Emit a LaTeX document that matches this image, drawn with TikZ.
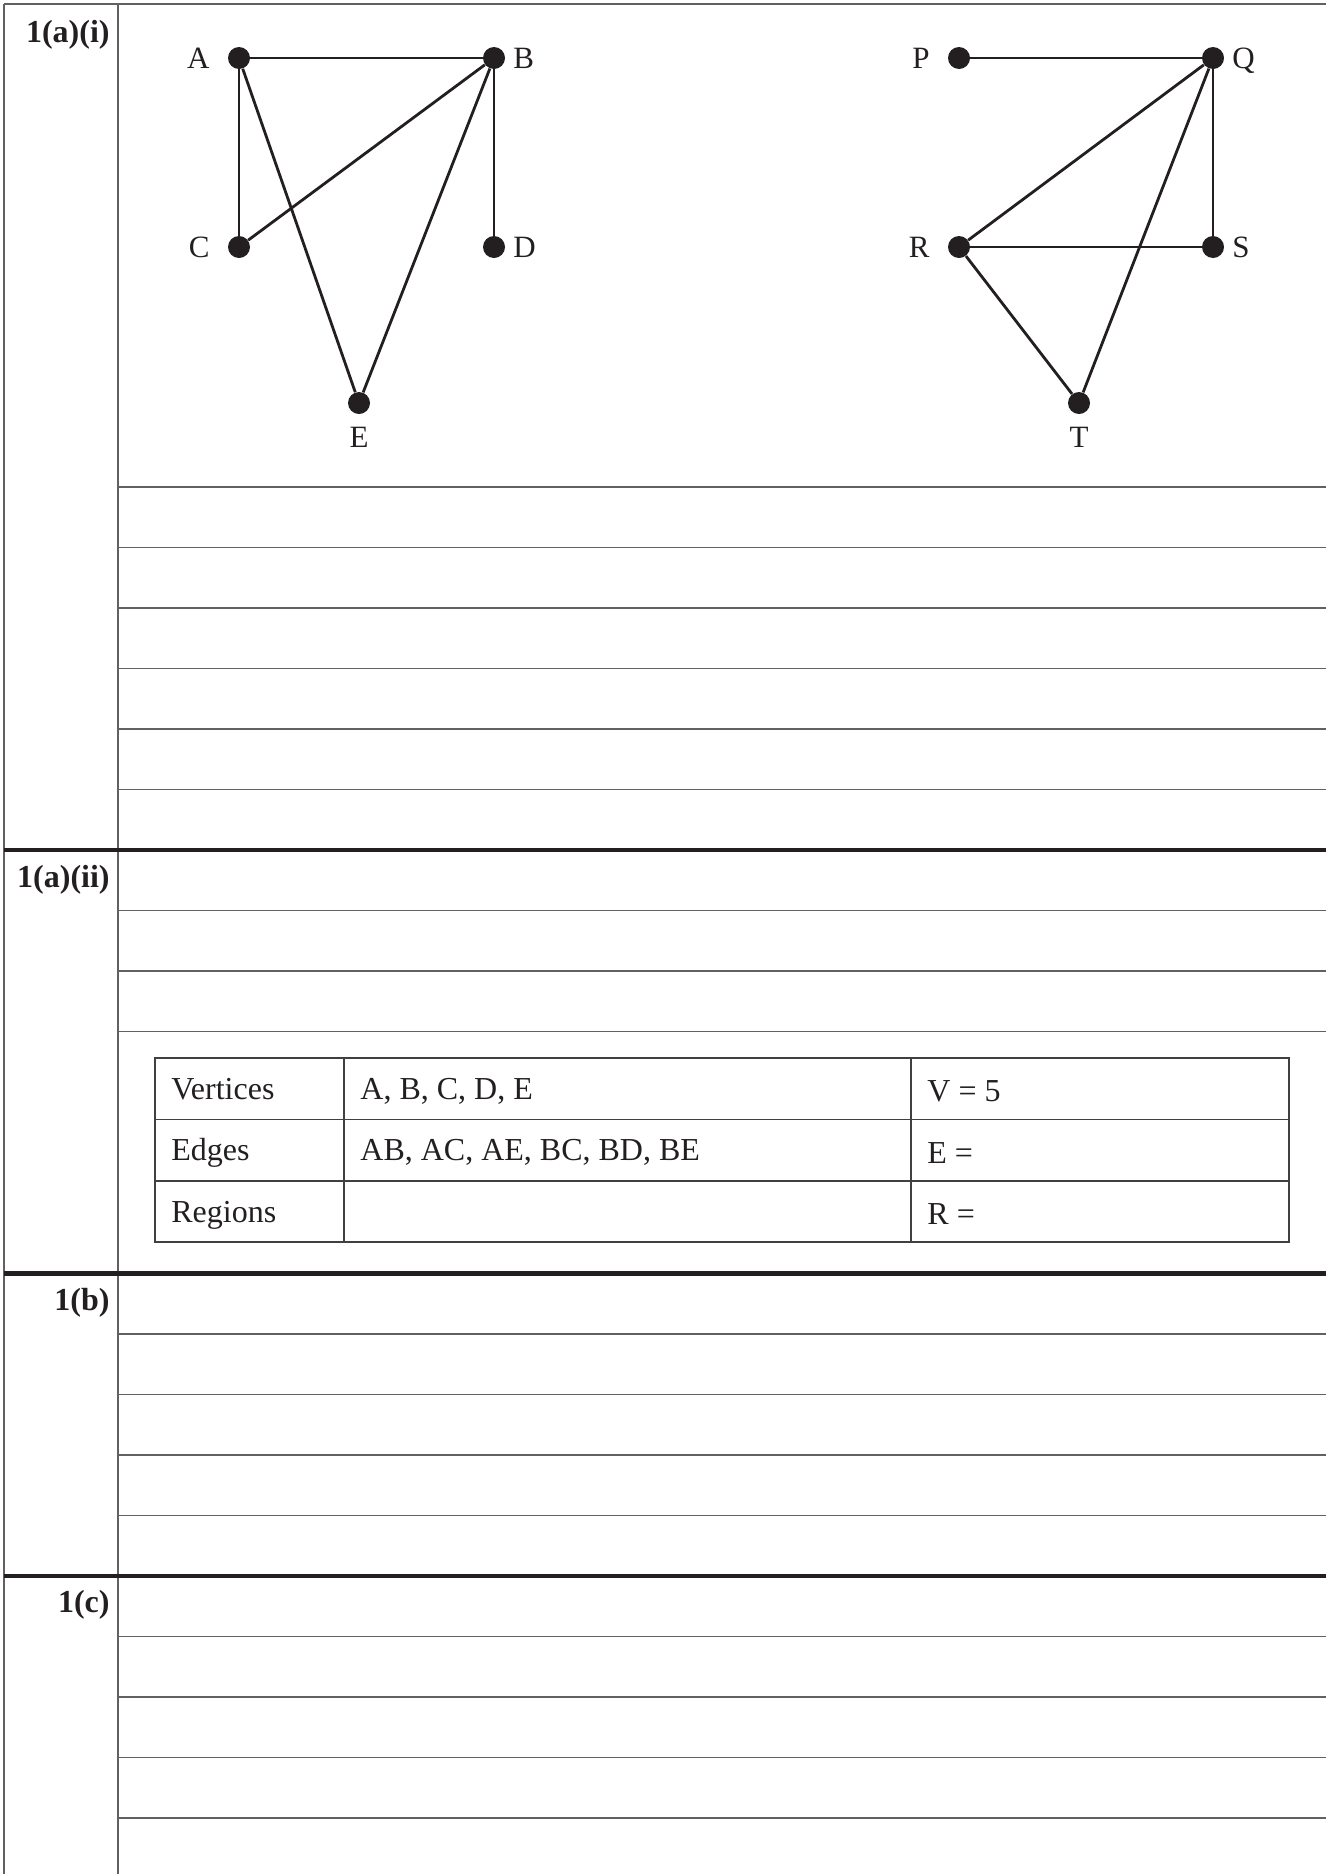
\documentclass[tikz,border=0pt]{standalone}
\usepackage{fontspec}
\setmainfont{Liberation Serif}
\definecolor{ink}{HTML}{231F20}
\begin{document}
\begin{tikzpicture}[x=0.5pt,y=-0.5pt,
  thinrule/.style={line width=0.75pt, draw=black!62},
  thickrule/.style={line width=2.2pt, draw=ink},
  tablerule/.style={line width=0.7pt, draw=black!75},
  gedge/.style={line width=1.4pt, draw=ink},
  vertex/.style={circle, fill=ink, inner sep=0pt, minimum size=11pt},
  vlabel/.style={inner sep=0pt, text=ink, font=\fontsize{15.5pt}{18pt}\selectfont},
  qlabel/.style={inner sep=0pt, text=ink, anchor=base east, font=\fontsize{16pt}{19pt}\selectfont\bfseries},
  cell/.style={inner sep=0pt, text=ink, anchor=base west, font=\fontsize{16pt}{19pt}\selectfont}]
\useasboundingbox (0,0) rectangle (1326,1874);
% frame
\draw[thinrule] (4,4) -- (1326,4);
\draw[thinrule] (4,4) -- (4,1874);
\draw[thinrule] (118,4) -- (118,1874);
% writing lines
\foreach \k in {0,1,2,3,4,5,7,8,9,14,15,16,17,19,20,21,22}
  \draw[thinrule] (118,{486.8+60.5*\k}) -- (1326,{486.8+60.5*\k});
\foreach \k in {6,13,18}
  \draw[thickrule] (4,{486.8+60.5*\k}) -- (1326,{486.8+60.5*\k});
% question labels
\node[qlabel] (q1) at (110,42) {1(a)(i)};
\node[qlabel] (q2) at (110,887) {1(a)(ii)};
\node[qlabel] (q3) at (110,1310.5) {1(b)};
\node[qlabel] (q4) at (110,1612.5) {1(c)};
% left graph
\node[vertex] (A) at (239,58) {};
\node[vertex] (B) at (494,58) {};
\node[vertex] (C) at (239,247) {};
\node[vertex] (D) at (494,247) {};
\node[vertex] (E) at (359,403) {};
\node[vlabel, anchor=base east] (lA) at (210,68.3) {A};
\node[vlabel, anchor=base west] (lB) at (513,68.3) {B};
\node[vlabel, anchor=base east] (lC) at (210,257.3) {C};
\node[vlabel, anchor=base west] (lD) at (513,257.3) {D};
\node[vlabel, anchor=base] (lE) at (359,447.5) {E};
\draw[gedge] (A) -- (B);
\draw[gedge] (A) -- (C);
\draw[gedge] (A) -- (E);
\draw[gedge] (B) -- (C);
\draw[gedge] (B) -- (D);
\draw[gedge] (B) -- (E);
% right graph
\node[vertex] (P) at (959,58) {};
\node[vertex] (Q) at (1213,58) {};
\node[vertex] (R) at (959,247) {};
\node[vertex] (S) at (1213,247) {};
\node[vertex] (T) at (1079,403) {};
\node[vlabel, anchor=base east] (lP) at (930,68.3) {P};
\node[vlabel, anchor=base west] (lQ) at (1232,68.3) {Q};
\node[vlabel, anchor=base east] (lR) at (930,257.3) {R};
\node[vlabel, anchor=base west] (lS) at (1232,257.3) {S};
\node[vlabel, anchor=base] (lT) at (1079,447.5) {T};
\draw[gedge] (P) -- (Q);
\draw[gedge] (Q) -- (R);
\draw[gedge] (Q) -- (S);
\draw[gedge] (Q) -- (T);
\draw[gedge] (R) -- (S);
\draw[gedge] (R) -- (T);
% table
\draw[tablerule] (155,1058) rectangle (1289,1242);
\draw[tablerule] (155,1119.5) -- (1289,1119.5);
\draw[tablerule] (155,1181) -- (1289,1181);
\draw[tablerule] (344,1058) -- (344,1242);
\draw[tablerule] (911,1058) -- (911,1242);
\node[cell] (t11) at (171,1099) {Vertices};
\node[cell] (t12) at (360,1099) {A, B, C, D, E};
\node[cell] (t13) at (927,1101.5) {V = 5};
\node[cell] (t21) at (171,1160.5) {Edges};
\node[cell] (t22) at (360,1160.5) {AB, AC, AE, BC, BD, BE};
\node[cell] (t23) at (927,1163) {E =};
\node[cell] (t31) at (171,1222) {Regions};
\node[cell] (t33) at (927,1224.5) {R =};
\end{tikzpicture}
\end{document}
